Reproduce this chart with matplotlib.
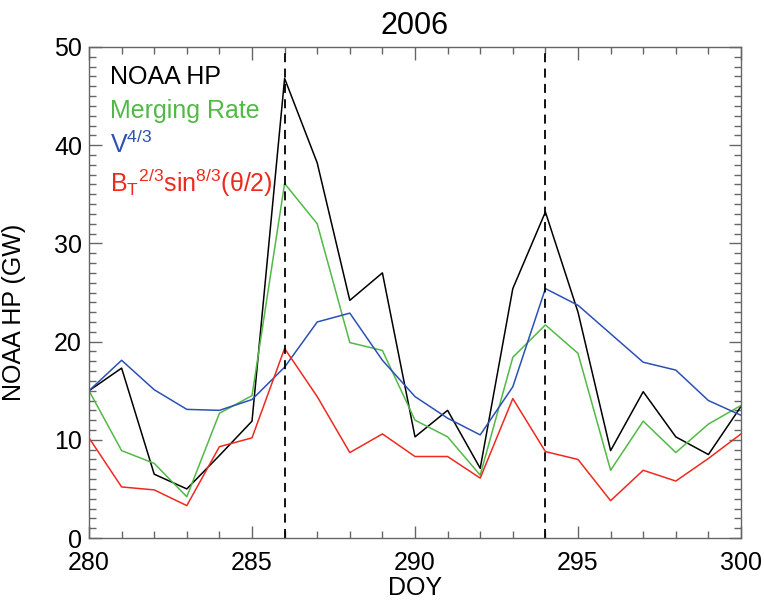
import numpy as np
import matplotlib
matplotlib.use("Agg")
import matplotlib.pyplot as plt
from matplotlib.ticker import MultipleLocator

plt.rcParams['font.family'] = ['Liberation Sans', 'DejaVu Sans']
plt.rcParams['mathtext.fontset'] = 'custom'
plt.rcParams['mathtext.rm'] = 'Liberation Sans'
plt.rcParams['mathtext.it'] = 'Liberation Sans'

# day of year
doy = np.arange(280, 301)

# values (GW)
noaa_hp = [15.0, 17.3, 6.5, 5.0, 8.4, 11.9, 46.8, 38.2, 24.2, 27.0, 10.3,
           13.0, 7.1, 25.4, 33.2, 23.0, 8.9, 14.9, 10.3, 8.5, 13.4]
merging = [15.0, 8.9, 7.6, 4.2, 12.7, 14.5, 36.1, 32.0, 19.9, 19.1, 12.0,
           10.3, 6.4, 18.4, 21.7, 18.8, 6.9, 11.9, 8.7, 11.6, 13.5]
v43 = [15.0, 18.1, 15.1, 13.1, 13.0, 14.1, 17.4, 22.0, 22.9, 18.1, 14.4,
       12.2, 10.5, 15.4, 25.4, 23.7, 20.8, 17.9, 17.1, 14.0, 12.5]
bt_sin = [10.2, 5.2, 4.9, 3.3, 9.3, 10.2, 19.3, 14.4, 8.7, 10.6, 8.3,
          8.3, 6.1, 14.2, 8.8, 8.0, 3.8, 6.9, 5.8, 8.1, 10.6]

event_days = [286, 294]

green = '#52b946'
blue = '#2c50b4'
red = '#ee2a1f'

fig = plt.figure(figsize=(7.64, 6.01), dpi=100)
ax = fig.add_axes([0.1165, 0.1048, 0.8534, 0.817])

ax.plot(doy, noaa_hp, color='black', lw=1.1)
ax.plot(doy, merging, color=green, lw=1.1)
ax.plot(doy, v43, color=blue, lw=1.1)
ax.plot(doy, bt_sin, color=red, lw=1.1)

for d in event_days:
    ax.axvline(d, color='black', lw=1.3, linestyle=(0, (5, 3.5)))

ax.set_xlim(280, 300)
ax.set_ylim(0, 50)
ax.xaxis.set_major_locator(MultipleLocator(5))
ax.xaxis.set_minor_locator(MultipleLocator(1))
ax.yaxis.set_major_locator(MultipleLocator(10))
ax.yaxis.set_minor_locator(MultipleLocator(1))

ax.tick_params(which='both', direction='in', top=True, right=True,
               color='#666666', width=1.0, labelsize=18)
ax.tick_params(which='major', length=9)
ax.tick_params(which='minor', length=5)
ax.tick_params(axis='x', pad=9)
ax.tick_params(axis='y', pad=5)
for s in ax.spines.values():
    s.set_color('#666666')
    s.set_linewidth(1.0)

ax.set_title('2006', fontsize=22, pad=9)
ax.set_xlabel('DOY', fontsize=18)
ax.set_ylabel('NOAA HP (GW)', fontsize=18)
ax.xaxis.set_label_coords(0.5, -0.078)
ax.yaxis.set_label_coords(-0.097, 0.46)

tx = 0.032
ax.text(tx, 0.9246, 'NOAA HP', color='black', fontsize=18,
        va='baseline', transform=ax.transAxes)
ax.text(tx, 0.8554, 'Merging Rate', color=green, fontsize=18,
        va='baseline', transform=ax.transAxes)
ax.text(tx, 0.7841, r'V$^{4/3}$', color=blue, fontsize=18,
        va='baseline', transform=ax.transAxes)
ax.text(tx, 0.7047, r'B$_{T}$$^{2/3}$sin$^{8/3}$(θ/2)', color=red,
        fontsize=18, va='baseline', transform=ax.transAxes)

fig.savefig('out.png', dpi=100)
